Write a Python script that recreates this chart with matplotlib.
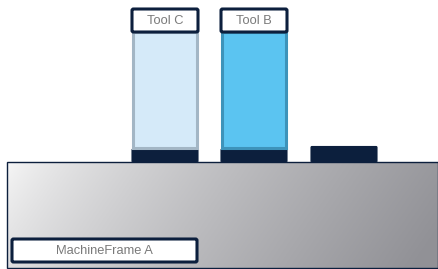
import numpy as np
import matplotlib.pyplot as plt
from matplotlib.patches import Rectangle, FancyBboxPatch

plt.rcParams['font.family'] = ['Liberation Sans', 'DejaVu Sans']

# components of the diagram
tool_names = ["Tool C", "Tool B"]
tool_fill = ["#D5EAF9", "#5BC4F1"]
tool_edge = ["#A3B6C5", "#3D93BA"]
frame_name = "MachineFrame A"

NAVY = "#0C1F3D"

fig = plt.figure(figsize=(4.38, 2.69), dpi=100)
ax = fig.add_axes([0, 0, 1, 1])
ax.set_xlim(0, 438)
ax.set_ylim(269, 0)
ax.axis('off')

# machine frame with diagonal gradient
fx0, fy0, fx1, fy1 = 7, 162, 438, 268
yy, xx = np.mgrid[0:1:100j, 0:1:300j]
t = np.clip(0.9 * xx + 0.15 * yy, 0, 1)
c0 = np.array([0.97, 0.97, 0.97])
c1 = np.array([0.57, 0.57, 0.59])
img = c0 + (c1 - c0) * (t[..., None] ** 0.75)
ax.imshow(img, extent=(fx0, fx1, fy1, fy0), aspect='auto', zorder=1)
ax.add_patch(Rectangle((fx0, fy0), fx1 - fx0, fy1 - fy0, fill=False,
                       ec=NAVY, lw=1.0, zorder=2))

# frame label
ax.add_patch(FancyBboxPatch((12, 239), 185, 23, boxstyle="round,pad=0,rounding_size=1.5",
                            fc="white", ec=NAVY, lw=2.2, zorder=3))
ax.text(104.5, 251, frame_name, ha='center', va='center', fontsize=9.3,
        color="#7a7a7a", zorder=4)

# slots
slot_x = [132, 221, 311]
slot_top = [149, 149, 146.5]
for x, top in zip(slot_x, slot_top):
    ax.add_patch(FancyBboxPatch((x, top), 66, 162 - top, boxstyle="round,pad=0,rounding_size=1",
                                fc=NAVY, ec=NAVY, lw=0.8, zorder=3))

# tools
for x, name, fc, ec in zip(slot_x[:2], tool_names, tool_fill, tool_edge):
    ax.add_patch(Rectangle((x + 1.2, 32), 63.6, 116, fc=fc, ec=ec, lw=2.2, zorder=3))
    ax.add_patch(FancyBboxPatch((x, 9), 66, 23, boxstyle="round,pad=0,rounding_size=1.5",
                                fc="white", ec=NAVY, lw=2.2, zorder=4))
    ax.text(x + 33, 20.5, name, ha='center', va='center', fontsize=9.3,
            color="#7a7a7a", zorder=5)

fig.savefig("out.png", dpi=100)
